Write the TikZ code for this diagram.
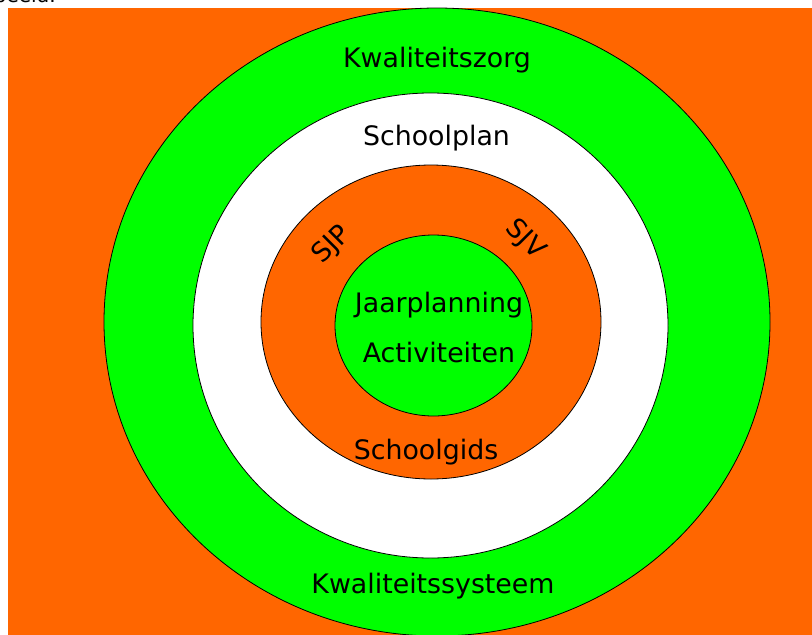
\documentclass[tikz,border=0pt]{standalone}
\usepackage{fontspec}
\setmainfont{DejaVu Sans}
\definecolor{bgorange}{HTML}{FF6600}
\definecolor{ringgreen}{HTML}{00FF00}
\tikzset{
  ring/.style={draw=black, line width=0.8pt},
  lbl/.style={inner sep=0pt, anchor=base, font=\fontsize{26.8}{32}\selectfont},
}
\begin{document}
\begin{tikzpicture}[x=1pt,y=-1pt]
\useasboundingbox (0,0) rectangle (812,635);
\fill[white] (0,0) rectangle (812,635);
\fill[bgorange] (8,8) rectangle (812,635);
\node[inner sep=0pt, anchor=base east, font=\fontsize{20}{24}\selectfont] (top) at (56,2.5) {beeld.};
\path[ring, fill=ringgreen] (437,322) ellipse [x radius=333, y radius=314];
\path[ring, fill=white] (430.5,325.5) ellipse [x radius=237.5, y radius=232.5];
\path[ring, fill=bgorange] (431,322) ellipse [x radius=170, y radius=157];
\path[ring, fill=ringgreen] (433.5,325.5) ellipse [x radius=98.5, y radius=90.5];
\node[lbl] (kz) at (437,67) {Kwaliteitszorg};
\node[lbl] (sp) at (436.5,145) {Schoolplan};
\node[lbl] (jp) at (439,312) {Jaarplanning};
\node[lbl] (ac) at (439,362) {Activiteiten};
\node[lbl] (sg) at (426,459) {Schoolgids};
\node[lbl] (ks) at (433,593) {Kwaliteitssysteem};
\node[lbl, anchor=center, rotate=45] (sjp) at (332,245) {SJP};
\node[lbl, anchor=center, rotate=-45] (sjv) at (525,240) {SJV};
\end{tikzpicture}
\end{document}
